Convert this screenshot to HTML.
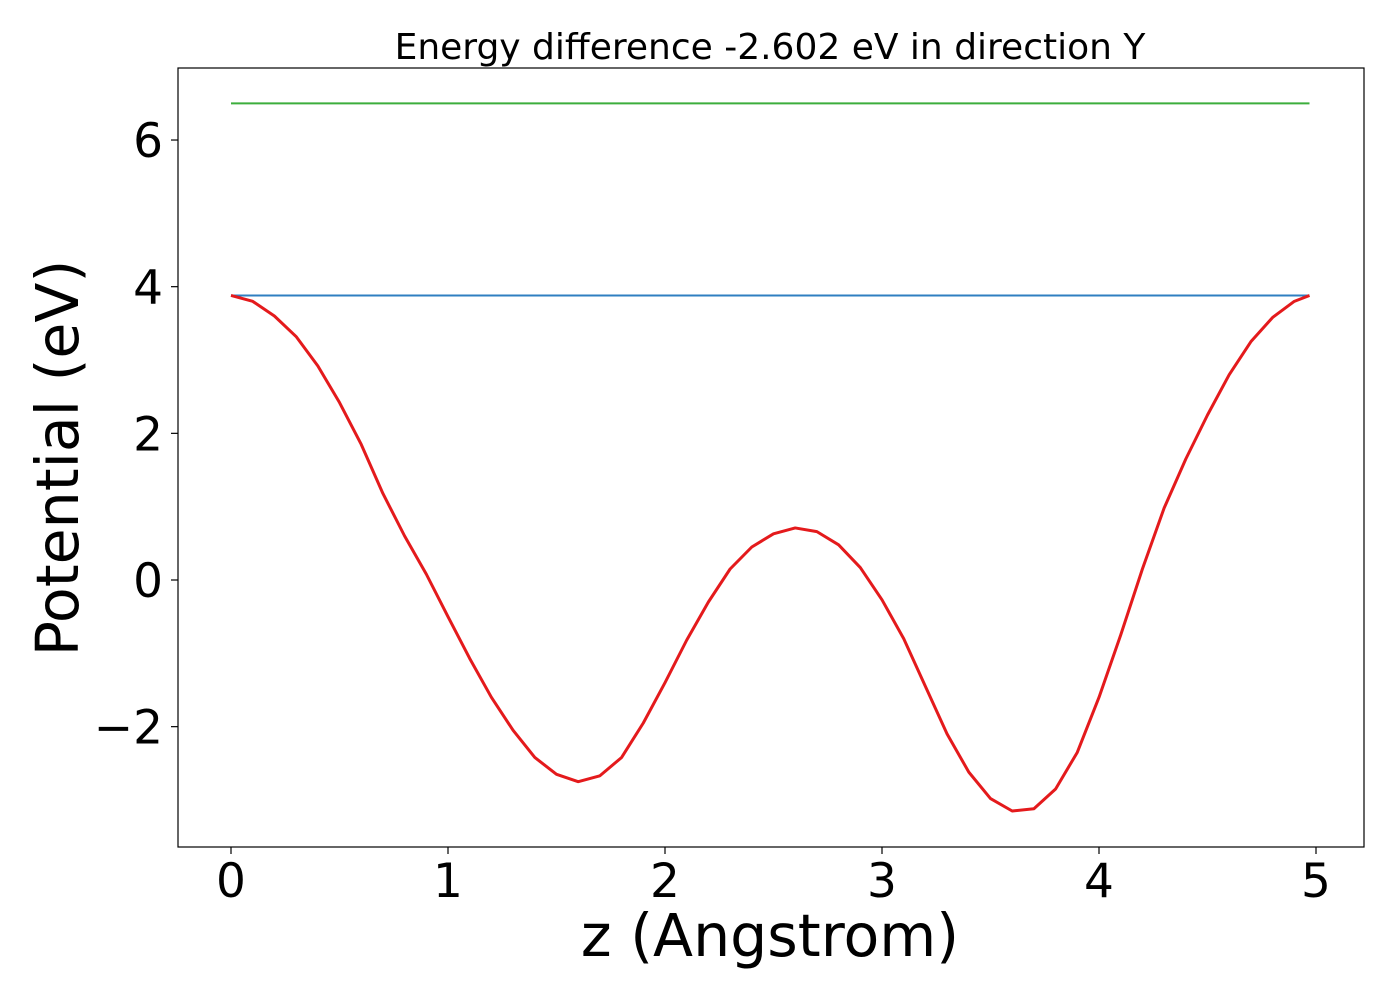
<!DOCTYPE html>
<html><head><meta charset="utf-8"><style>
html,body{margin:0;padding:0;background:#fff;}
svg text{font-family:"DejaVu Sans","Liberation Sans",sans-serif;fill:#000;}
</style></head><body>
<svg id="chart" width="1400" height="1000" xmlns="http://www.w3.org/2000/svg">
<text x="770" y="59" font-size="36" text-anchor="middle">Energy difference -2.602 eV in direction Y</text>
<g id="ticks"></g>
<g id="series"></g>
<rect x="178" y="68" width="1186" height="779" fill="none" stroke="#000" stroke-width="1.2"/>
<text x="770" y="956" font-size="58.5" text-anchor="middle">z (Angstrom)</text>
<text transform="translate(78,458) rotate(-90)" font-size="58.5" text-anchor="middle">Potential (eV)</text>
</svg>
<script>
const zValues = [0,0.1,0.2,0.3,0.4,0.5,0.6,0.7,0.8,0.9,1.0,1.1,1.2,1.3,1.4,1.5,1.6,1.7,1.8,1.9,2.0,2.1,2.2,2.3,2.4,2.5,2.6,2.7,2.8,2.9,3.0,3.1,3.2,3.3,3.4,3.5,3.6,3.7,3.8,3.9,4.0,4.1,4.2,4.3,4.4,4.5,4.6,4.7,4.8,4.9,4.97];
const potentialValues = [3.88,3.8,3.6,3.32,2.92,2.42,1.85,1.18,0.6,0.08,-0.5,-1.07,-1.6,-2.05,-2.42,-2.65,-2.75,-2.67,-2.42,-1.95,-1.4,-0.82,-0.3,0.15,0.45,0.63,0.71,0.66,0.48,0.17,-0.27,-0.8,-1.45,-2.1,-2.62,-2.98,-3.15,-3.12,-2.85,-2.35,-1.6,-0.75,0.15,0.98,1.65,2.25,2.8,3.25,3.58,3.8,3.88];
const blueLevel = [3.88];
const greenLevel = [6.5];
const lineRange = [0, 4.97];
const xTicks = [0,1,2,3,4,5];
const yTicks = [-2,0,2,4,6];
const yTickLabels = ["\u22122","0","2","4","6"];

const NS = "http://www.w3.org/2000/svg";
function xs(v){ return 231 + v*217; }
function ys(v){ return 580 - v*73.33; }

const tg = document.getElementById('ticks');
xTicks.forEach(t=>{
  const l=document.createElementNS(NS,'line');
  l.setAttribute('x1',xs(t));l.setAttribute('x2',xs(t));l.setAttribute('y1',847);l.setAttribute('y2',854);
  l.setAttribute('stroke','#000');l.setAttribute('stroke-width','1.2');
  
  
  tg.appendChild(l);
  const tx=document.createElementNS(NS,'text');
  tx.setAttribute('x',xs(t));tx.setAttribute('y',897);tx.setAttribute('font-size','47');tx.setAttribute('text-anchor','middle');
  tx.textContent=t;
  
  
  tg.appendChild(tx);
});
yTicks.forEach((t,i)=>{
  const l=document.createElementNS(NS,'line');
  l.setAttribute('x1',171);l.setAttribute('x2',178);l.setAttribute('y1',ys(t));l.setAttribute('y2',ys(t));
  l.setAttribute('stroke','#000');l.setAttribute('stroke-width','1.2');
  
  
  tg.appendChild(l);
  const tx=document.createElementNS(NS,'text');
  tx.setAttribute('x',163);tx.setAttribute('y',ys(t)+17);tx.setAttribute('font-size','47');tx.setAttribute('text-anchor','end');
  tx.textContent=yTickLabels[i];
  
  
  tg.appendChild(tx);
});

const sg = document.getElementById('series');
function hline(val,color,name){
  const l=document.createElementNS(NS,'line');
  l.setAttribute('x1',xs(lineRange[0]));l.setAttribute('x2',xs(lineRange[1]));
  l.setAttribute('y1',ys(val));l.setAttribute('y2',ys(val));
  l.setAttribute('stroke',color);l.setAttribute('stroke-width','2');
  
  
  sg.appendChild(l);
}
hline(greenLevel[0],'#3cae3c','green-level-line');
hline(blueLevel[0],'#2f7fc1','blue-level-line');

const d = zValues.map((z,i)=>(i?'L':'M')+xs(z).toFixed(2)+','+ys(potentialValues[i]).toFixed(2)).join(' ');
const path=document.createElementNS(NS,'path');
path.setAttribute('d',d);path.setAttribute('fill','none');path.setAttribute('stroke','#e41a1c');path.setAttribute('stroke-width','3');
path.setAttribute('stroke-linejoin','round');


sg.appendChild(path);
</script>
</body></html>
